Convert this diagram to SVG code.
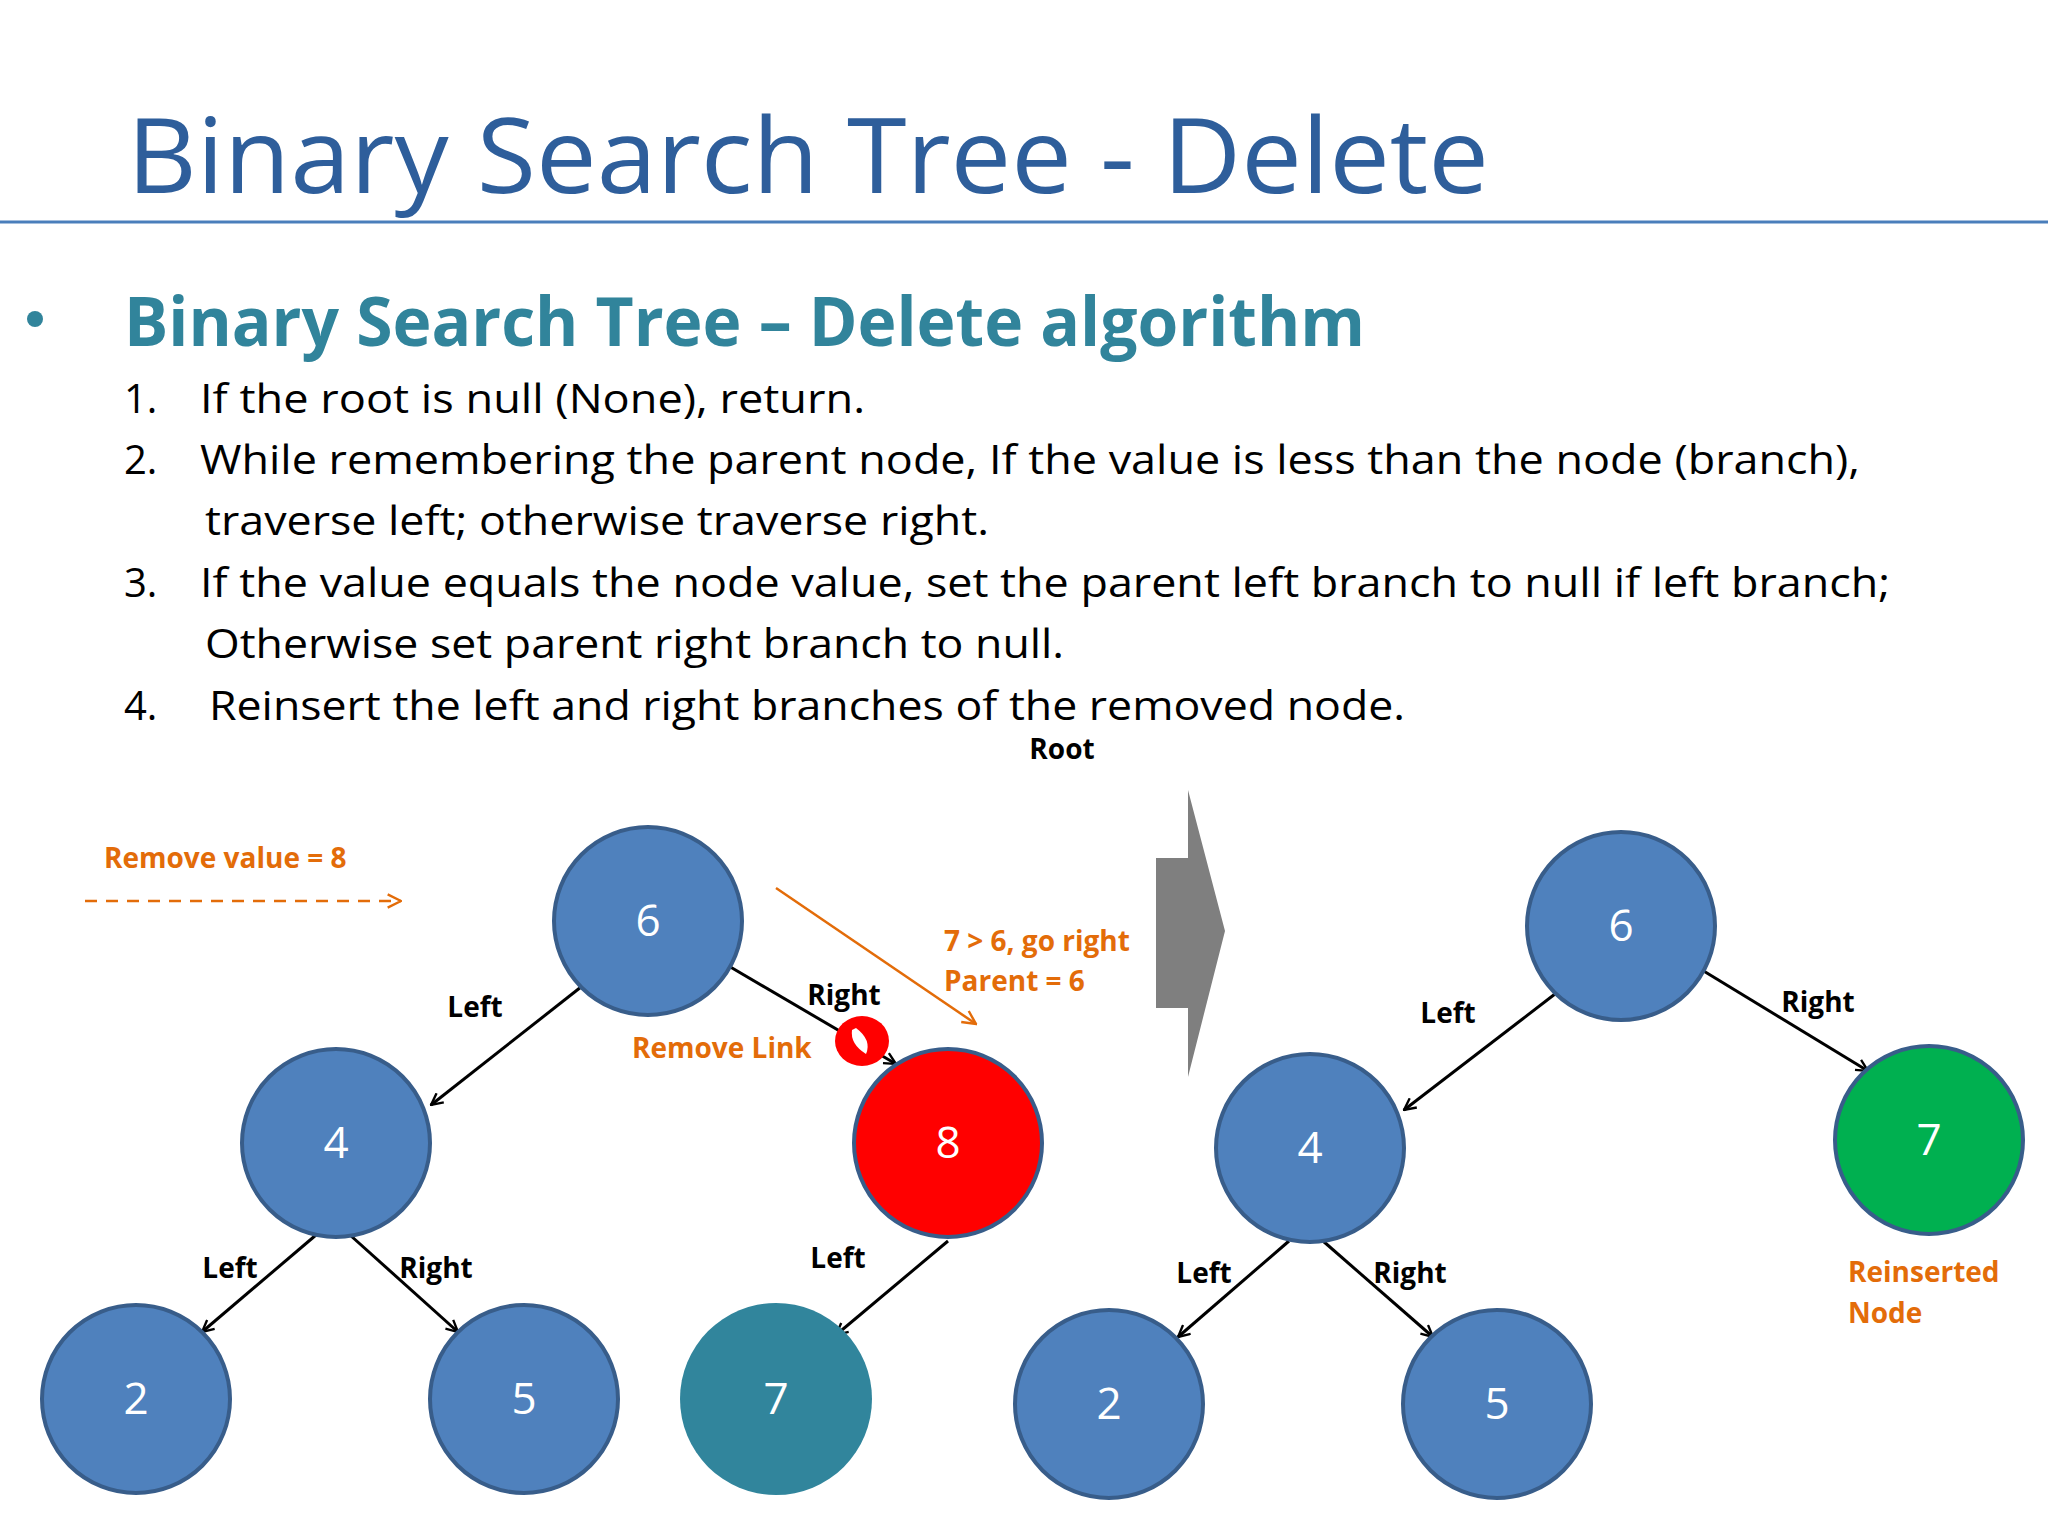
<svg xmlns="http://www.w3.org/2000/svg" width="2048" height="1536" viewBox="0 0 2048 1536">
<style>
.t{font-family:"Open Sans","Liberation Sans",sans-serif}
.n{fill:#4F81BD;stroke:#385D8A;stroke-width:4}
.nv{font-family:"Open Sans","Liberation Sans",sans-serif;font-size:44px;fill:#fff;text-anchor:middle}
.lb{font-family:"Open Sans","Liberation Sans",sans-serif;font-size:28px;font-weight:bold;fill:#000;text-anchor:middle}
.or{font-family:"Open Sans","Liberation Sans",sans-serif;font-size:28px;font-weight:bold;fill:#E36C09}
.li{font-family:"Open Sans","Liberation Sans",sans-serif;font-size:40px;fill:#000}
.e{stroke:#000;stroke-width:3;fill:none;marker-end:url(#a)}
</style>
<defs>
<marker id="a" viewBox="0 0 12 12" refX="11" refY="6" markerWidth="14" markerHeight="14" markerUnits="userSpaceOnUse" orient="auto"><path d="M1,1 L11,6 L1,11" fill="none" stroke="#000" stroke-width="2"/></marker>
<marker id="o" viewBox="0 0 12 12" refX="11" refY="6" markerWidth="16" markerHeight="16" markerUnits="userSpaceOnUse" orient="auto"><path d="M1,1 L11,6 L1,11" fill="none" stroke="#E36C09" stroke-width="1.8"/></marker>
</defs>
<rect width="2048" height="1536" fill="#fff"/>
<text class="t" x="127" y="193" font-size="104" fill="#2E5E9B" textLength="1362" lengthAdjust="spacingAndGlyphs">Binary Search Tree - Delete</text>
<line x1="0" y1="222" x2="2048" y2="222" stroke="#4A7EBB" stroke-width="3"/>
<circle cx="35" cy="319" r="8" fill="#31849B"/>
<text class="t" x="124" y="346" font-size="68" font-weight="bold" fill="#31849B" textLength="1241" lengthAdjust="spacingAndGlyphs">Binary Search Tree – Delete algorithm</text>
<text class="li" x="124" y="413">1.</text><text class="li" x="200" y="413" textLength="665" lengthAdjust="spacingAndGlyphs">If the root is null (None), return.</text>
<text class="li" x="124" y="474">2.</text><text class="li" x="200" y="474" textLength="1660" lengthAdjust="spacingAndGlyphs">While remembering the parent node, If the value is less than the node (branch),</text>
<text class="li" x="205" y="535" textLength="784" lengthAdjust="spacingAndGlyphs">traverse left; otherwise traverse right.</text>
<text class="li" x="124" y="597">3.</text><text class="li" x="200" y="597" textLength="1690" lengthAdjust="spacingAndGlyphs">If the value equals the node value, set the parent left branch to null if left branch;</text>
<text class="li" x="205" y="658" textLength="859" lengthAdjust="spacingAndGlyphs">Otherwise set parent right branch to null.</text>
<text class="li" x="124" y="720">4.</text><text class="li" x="209" y="720" textLength="1196" lengthAdjust="spacingAndGlyphs">Reinsert the left and right branches of the removed node.</text>
<text class="lb" x="1062" y="759">Root</text>
<polygon points="1156,858 1188,858 1188,790 1225,931 1188,1077 1188,1008 1156,1008" fill="#7F7F7F"/>
<g id="connectors">
<line class="e" x1="581" y1="987" x2="431" y2="1105"/>
<line class="e" x1="727" y1="965" x2="896" y2="1064"/>
<line class="e" x1="316" y1="1235" x2="202" y2="1332"/>
<line class="e" x1="350" y1="1235" x2="458" y2="1332"/>
<line class="e" x1="948" y1="1241" x2="836" y2="1335"/>
<line class="e" x1="1555" y1="994" x2="1404" y2="1110"/>
<line class="e" x1="1702" y1="970" x2="1868" y2="1071"/>
<line class="e" x1="1289" y1="1241" x2="1178" y2="1337"/>
<line class="e" x1="1323" y1="1241" x2="1433" y2="1337"/>
<line x1="85" y1="901" x2="401" y2="901" stroke="#E36C09" stroke-width="2.5" stroke-dasharray="12,9" marker-end="url(#o)"/>
<line x1="776" y1="888" x2="976" y2="1024" stroke="#E36C09" stroke-width="2.5" marker-end="url(#o)"/>
</g>
<g id="n6a"><circle class="n" cx="648" cy="921" r="94"/><text class="nv" x="648" y="936">6</text></g>
<g id="n4a"><circle class="n" cx="336" cy="1143" r="94"/><text class="nv" x="336" y="1158">4</text></g>
<g id="n2a"><circle class="n" cx="136" cy="1399" r="94"/><text class="nv" x="136" y="1414">2</text></g>
<g id="n5a"><circle class="n" cx="524" cy="1399" r="94"/><text class="nv" x="524" y="1414">5</text></g>
<g id="n8"><circle cx="948" cy="1143" r="94" fill="#FF0000" stroke="#385D8A" stroke-width="4"/><text class="nv" x="948" y="1158">8</text></g>
<g id="n7a"><circle cx="776" cy="1399" r="96" fill="#31859C"/><text class="nv" x="776" y="1414">7</text></g>
<g id="n6b"><circle class="n" cx="1621" cy="926" r="94"/><text class="nv" x="1621" y="941">6</text></g>
<g id="n4b"><circle class="n" cx="1310" cy="1148" r="94"/><text class="nv" x="1310" y="1163">4</text></g>
<g id="n2b"><circle class="n" cx="1109" cy="1404" r="94"/><text class="nv" x="1109" y="1419">2</text></g>
<g id="n5b"><circle class="n" cx="1497" cy="1404" r="94"/><text class="nv" x="1497" y="1419">5</text></g>
<g id="n7b"><circle cx="1929" cy="1140" r="94" fill="#00B050" stroke="#385D8A" stroke-width="4"/><text class="nv" x="1929" y="1155">7</text></g>
<g id="stop"><ellipse cx="862" cy="1041" rx="27" ry="25" fill="#FF0000"/><path d="M852,1030 Q850,1044 866,1054 Q872,1040 856,1028 Z" fill="#fff"/></g>
<text class="lb" x="475" y="1017">Left</text>
<text class="lb" x="844" y="1005">Right</text>
<text class="lb" x="230" y="1278">Left</text>
<text class="lb" x="436" y="1278">Right</text>
<text class="lb" x="838" y="1268">Left</text>
<text class="lb" x="1448" y="1023">Left</text>
<text class="lb" x="1818" y="1012">Right</text>
<text class="lb" x="1204" y="1283">Left</text>
<text class="lb" x="1410" y="1283">Right</text>
<text class="or" x="104" y="868">Remove value = 8</text>
<text class="or" x="632" y="1058">Remove Link</text>
<text class="or" x="944" y="951">7 &gt; 6, go right</text>
<text class="or" x="944" y="991">Parent = 6</text>
<text class="or" x="1848" y="1282">Reinserted</text>
<text class="or" x="1848" y="1323">Node</text>
</svg>
